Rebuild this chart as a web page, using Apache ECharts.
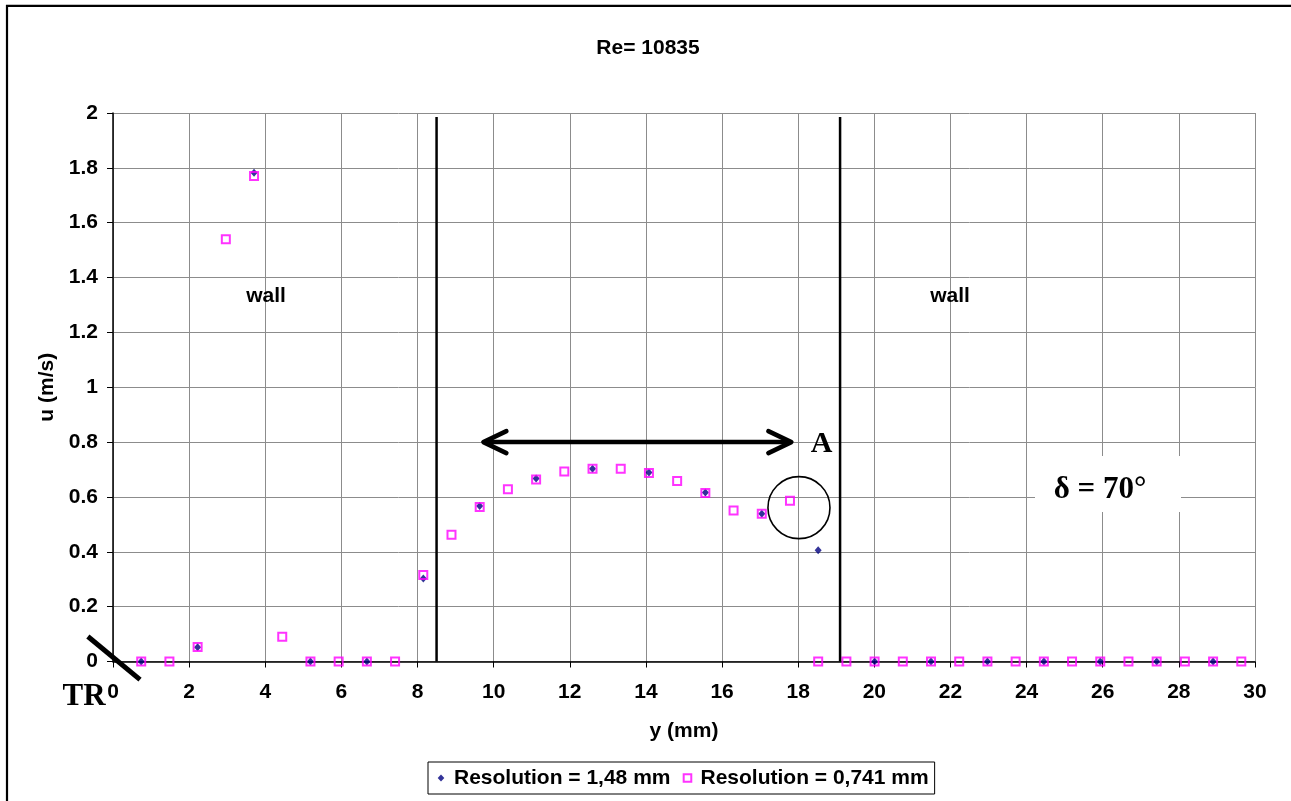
<!DOCTYPE html>
<html>
<head>
<meta charset="utf-8">
<title>Re= 10835</title>
<script src="https://cdn.jsdelivr.net/npm/echarts@6/dist/echarts.min.js"></script>
<style>
  html, body { margin: 0; padding: 0; background: #fff; }
  #chart { width: 1291px; height: 801px; }
</style>
</head>
<body>
<div id="chart"></div>
<script>
// Measurement positions across the channel (mm) and streamwise velocity u (m/s)
const yCoarse = [0.741, 2.223, 3.705, 5.187, 6.669, 8.151, 9.633, 11.115, 12.597, 14.079,
                 15.561, 17.043, 18.525, 20.007, 21.489, 22.971, 24.453, 25.935, 27.417, 28.899];
const uCoarse = [0, 0.052, 1.782, 0, 0, 0.303, 0.567, 0.667, 0.703, 0.689,
                 0.616, 0.539, 0.406, 0, 0, 0, 0, 0, 0, 0];

const yFine = [0.741, 1.482, 2.223, 2.964, 3.705, 4.446, 5.187, 5.928, 6.669, 7.41,
               8.151, 8.892, 9.633, 10.374, 11.115, 11.856, 12.597, 13.338, 14.079, 14.82,
               15.561, 16.302, 17.043, 17.784, 18.525, 19.266, 20.007, 20.748, 21.489, 22.23,
               22.971, 23.712, 24.453, 25.194, 25.935, 26.676, 27.417, 28.158, 28.899, 29.64];
const uFine = [0, 0, 0.053, 1.54, 1.77, 0.09, 0, 0, 0, 0,
               0.315, 0.462, 0.563, 0.628, 0.664, 0.693, 0.703, 0.703, 0.687, 0.658,
               0.614, 0.551, 0.539, 0.586, 0, 0, 0, 0, 0, 0,
               0, 0, 0, 0, 0, 0, 0, 0, 0, 0];

const seriesNames = ['Resolution = 1,48 mm', 'Resolution = 0,741 mm'];
const titleText = 'Re= 10835';

// Annotation anchors in data units (y in mm, u in m/s)
const wallEdges = [8.5, 19.1];
const wallEdgeTop = 1.985;
const arrowSpan = [9.73, 17.82];
const arrowLevel = 0.8;
const circleCenter = [18.02, 0.561];
const slashEnds = [[-0.66, 0.091], [0.71, -0.066]];

const FONT = '"Liberation Sans", Arial, sans-serif';
const SERIF = '"Liberation Serif", "Times New Roman", serif';

// legend glyphs: the leading moveTo points pad the 10x10 icon box
const ICON_DIAMOND = 'path://M0,0M10,10M5,1.5L8.3,5L5,8.5L1.7,5Z';
const ICON_SQUARE = 'path://M0,0M10,10M1.2,1.2L8.8,1.2L8.8,8.8L1.2,8.8Z';

const chart = echarts.init(document.getElementById('chart'), null, { renderer: 'canvas' });

const coarseData = yCoarse.map((y, i) => [y, uCoarse[i]]);
const fineData = yFine.map((y, i) => [y, uFine[i]]);

const option = {
  backgroundColor: '#ffffff',
  animation: false,
  grid: { left: 113, top: 113, width: 1142, height: 548.5, containLabel: false },
  xAxis: {
    type: 'value', min: 0, max: 30, interval: 2,
    name: 'y (mm)', nameLocation: 'middle', nameGap: 59,
    nameTextStyle: { fontFamily: FONT, fontWeight: 'bold', fontSize: 21, color: '#000' },
    axisLine: { onZero: false, lineStyle: { color: '#000', width: 1.5 } },
    axisTick: { show: true, length: 6, lineStyle: { color: '#000', width: 1 } },
    axisLabel: { margin: 20, fontFamily: FONT, fontWeight: 'bold', fontSize: 21, color: '#000' },
    splitLine: { show: true, lineStyle: { color: '#8c8c8c', width: 1 } }
  },
  yAxis: {
    type: 'value', min: 0, max: 2, interval: 0.2,
    name: 'u (m/s)', nameLocation: 'middle', nameGap: 55, nameRotate: 90,
    nameTextStyle: { fontFamily: FONT, fontWeight: 'bold', fontSize: 21, color: '#000' },
    axisLine: { show: true, onZero: false, lineStyle: { color: '#000', width: 1.5 } },
    axisTick: { show: true, length: 6, lineStyle: { color: '#000', width: 1 } },
    axisLabel: { margin: 15, fontFamily: FONT, fontWeight: 'bold', fontSize: 21, color: '#000',
                 formatter: v => String(+v.toFixed(1)) },
    splitLine: { show: true, lineStyle: { color: '#8c8c8c', width: 1 } }
  },
  legend: {
    left: 428, top: 762,
    orient: 'horizontal',
    padding: [5.5, 6, 5.5, 8],
    itemGap: 11,
    itemWidth: 10, itemHeight: 10,
    borderColor: '#000', borderWidth: 1,
    backgroundColor: '#fff',
    textStyle: { fontFamily: FONT, fontWeight: 'bold', fontSize: 21, color: '#000', padding: [0, 0, 0, 3] },
    data: [
      { name: seriesNames[0], icon: ICON_DIAMOND, itemStyle: { color: '#000080', borderWidth: 0 } },
      { name: seriesNames[1], icon: ICON_SQUARE,
        itemStyle: { color: 'rgba(0,0,0,0)', borderColor: '#ff00ff', borderWidth: 2 } }
    ]
  },
  graphic: [
    // outer chart frame
    { type: 'rect', z: 0, silent: true,
      shape: { x: 7, y: 5.8, width: 1310, height: 820 },
      style: { fill: 'none', stroke: '#000', lineWidth: 2.2 } },
    { type: 'text', z: 5, silent: true,
      style: { text: titleText, x: 648, y: 48, align: 'center', verticalAlign: 'middle',
               font: 'bold 21px ' + FONT, fill: '#000' } },
    { type: 'text', z: 5, silent: true,
      style: { text: 'wall', x: 266, y: 296, align: 'center', verticalAlign: 'middle',
               font: 'bold 21px ' + FONT, fill: '#000' } },
    { type: 'text', z: 5, silent: true,
      style: { text: 'wall', x: 950, y: 296, align: 'center', verticalAlign: 'middle',
               font: 'bold 21px ' + FONT, fill: '#000' } },
    // label box for the inclination angle
    { type: 'rect', z: 1, silent: true,
      shape: { x: 1035, y: 456, width: 146, height: 56 },
      style: { fill: '#fff', stroke: 'none' } },
    { type: 'text', z: 5, silent: true,
      style: { text: 'δ = 70°', x: 1100, y: 490, align: 'center', verticalAlign: 'middle',
               font: 'bold 31px ' + SERIF, fill: '#000' } },
    { type: 'text', z: 5, silent: true,
      style: { text: 'A', x: 821.5, y: 444, align: 'center', verticalAlign: 'middle',
               font: 'bold 30px ' + SERIF, fill: '#000' } },
    { type: 'text', z: 5, silent: true,
      style: { text: 'TR', x: 84, y: 697, align: 'center', verticalAlign: 'middle',
               font: 'bold 31px ' + SERIF, fill: '#000' } }
  ],
  series: [
    {
      name: seriesNames[0], type: 'scatter', z: 3,
      symbol: 'diamond', symbolSize: [7, 8],
      itemStyle: { color: '#000080' },
      data: coarseData
    },
    {
      name: seriesNames[1], type: 'scatter', z: 4,
      symbol: 'rect', symbolSize: 8,
      itemStyle: { color: 'rgba(0,0,0,0)', borderColor: '#ff00ff', borderWidth: 2 },
      data: fineData
    },
    {
      // channel wall edges
      type: 'custom', name: 'walls', silent: true, z: 5, clip: false,
      data: wallEdges.map(x => [x, wallEdgeTop]),
      renderItem: (params, api) => {
        const p0 = api.coord([api.value(0), 0]);
        const p1 = api.coord([api.value(0), api.value(1)]);
        return { type: 'line', shape: { x1: p0[0], y1: p0[1], x2: p1[0], y2: p1[1] },
                 style: { stroke: '#000', lineWidth: 2.5 } };
      }
    },
    {
      // double-headed arrow across the core flow
      type: 'custom', name: 'span', silent: true, z: 5, clip: false,
      data: [[arrowSpan[0], arrowSpan[1], arrowLevel]],
      renderItem: (params, api) => {
        const a = api.coord([api.value(0), api.value(2)]);
        const b = api.coord([api.value(1), api.value(2)]);
        const st = { stroke: '#000', lineWidth: 4.5, lineCap: 'round', lineJoin: 'round', fill: 'none' };
        return { type: 'group', children: [
          { type: 'line', shape: { x1: a[0] + 2, y1: a[1], x2: b[0] - 2, y2: b[1] }, style: st },
          { type: 'polyline', shape: { points: [[a[0] + 23, a[1] - 11], [a[0], a[1]], [a[0] + 23, a[1] + 11]] }, style: st },
          { type: 'polyline', shape: { points: [[b[0] - 23, b[1] - 11], [b[0], b[1]], [b[0] - 23, b[1] + 11]] }, style: st }
        ] };
      }
    },
    {
      // circle around point A
      type: 'custom', name: 'ring', silent: true, z: 5, clip: false,
      data: [circleCenter],
      renderItem: (params, api) => {
        const c = api.coord([api.value(0), api.value(1)]);
        return { type: 'circle', shape: { cx: c[0], cy: c[1], r: 31 },
                 style: { stroke: '#000', lineWidth: 1.6, fill: 'none' } };
      }
    },
    {
      // slash marking the trailing reference at the origin
      type: 'custom', name: 'slash', silent: true, z: 5, clip: false,
      data: [[slashEnds[0][0], slashEnds[0][1], slashEnds[1][0], slashEnds[1][1]]],
      renderItem: (params, api) => {
        const p0 = api.coord([api.value(0), api.value(1)]);
        const p1 = api.coord([api.value(2), api.value(3)]);
        return { type: 'line', shape: { x1: p0[0], y1: p0[1], x2: p1[0], y2: p1[1] },
                 style: { stroke: '#000', lineWidth: 5 } };
      }
    }
  ]
};

chart.setOption(option);
</script>
</body>
</html>
